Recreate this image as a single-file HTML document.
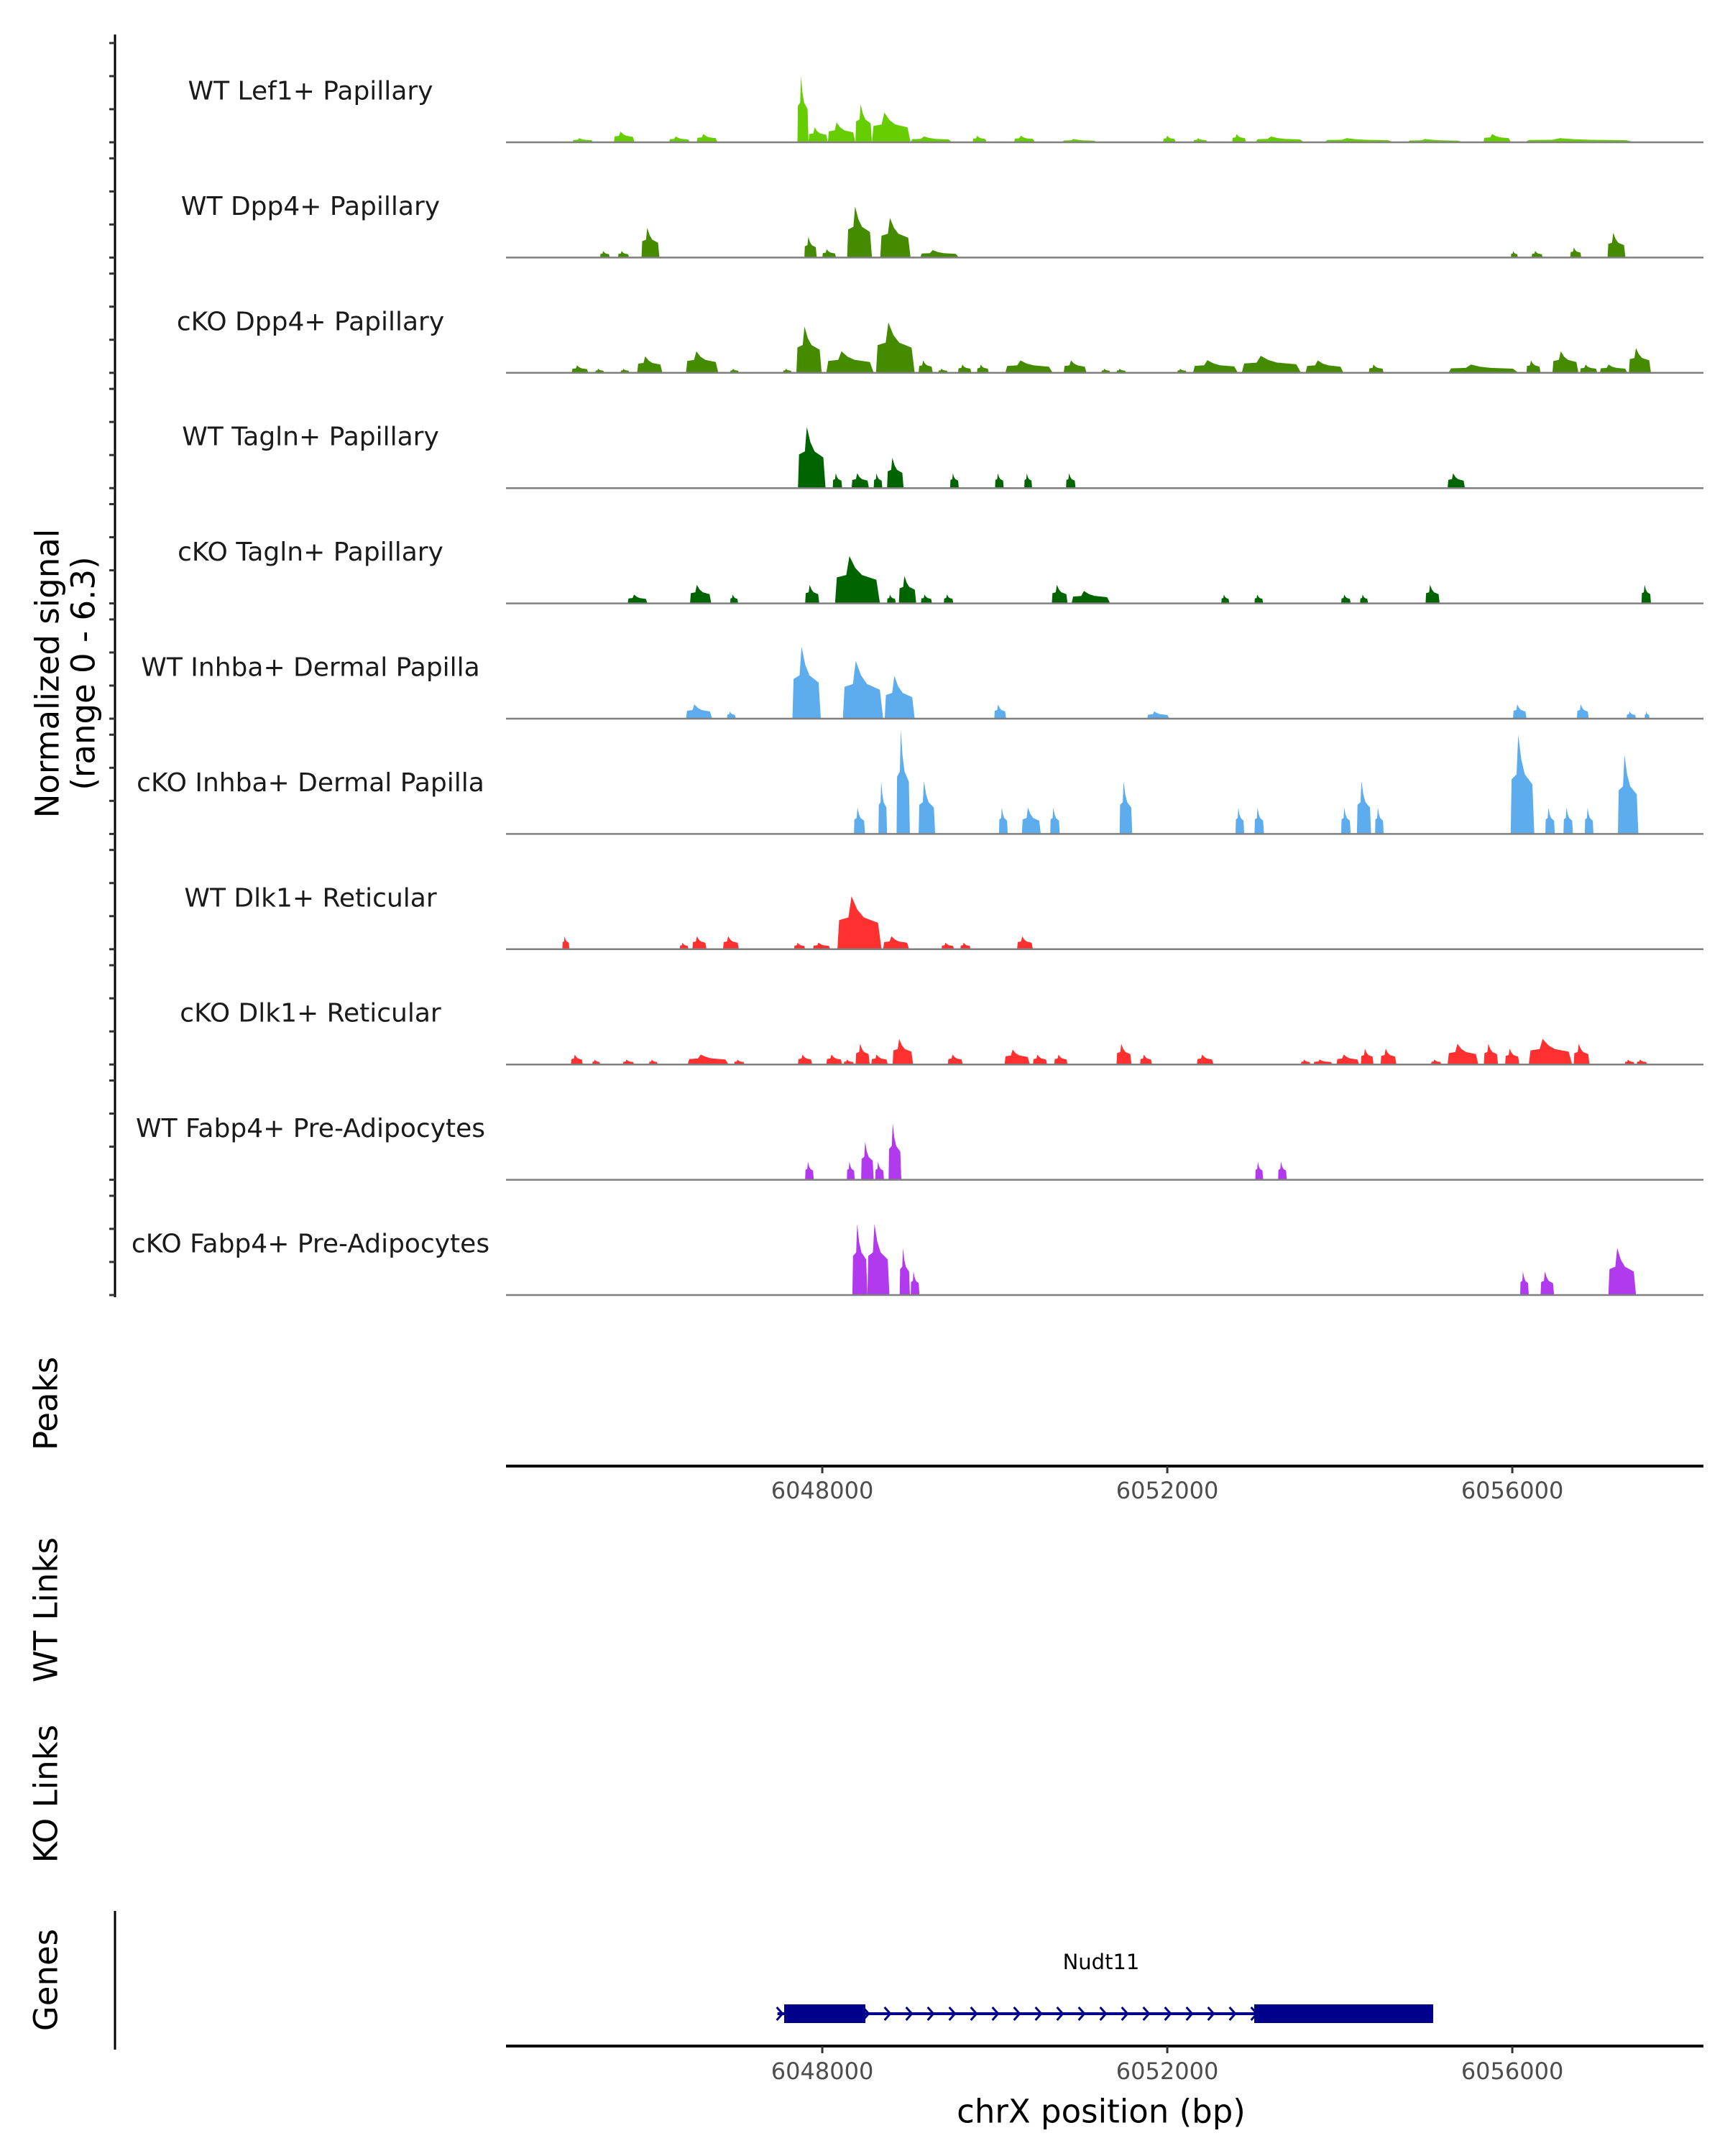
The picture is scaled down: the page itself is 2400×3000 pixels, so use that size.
<!DOCTYPE html>
<html><head><meta charset="utf-8"><style>
html,body{margin:0;padding:0;background:#fff}
svg{display:block}
text{font-family:"DejaVu Sans","Liberation Sans",sans-serif}
</style></head><body>
<svg id="chart" width="2400" height="3000" viewBox="0 0 2400 3000" xmlns="http://www.w3.org/2000/svg">
<rect width="2400" height="3000" fill="#fff"/>
<g id="tracks"></g>
<line x1="160" y1="48" x2="160" y2="1805" stroke="#000" stroke-width="3"/>
<g id="yticks"></g>
<text transform="translate(66,937) rotate(-90)" text-anchor="middle" dominant-baseline="central" font-size="45" fill="#000">Normalized signal</text>
<text transform="translate(116,937) rotate(-90)" text-anchor="middle" dominant-baseline="central" font-size="45" fill="#000">(range 0 - 6.3)</text>
<text transform="translate(64,1953) rotate(-90)" text-anchor="middle" dominant-baseline="central" font-size="45">Peaks</text>
<text transform="translate(64,2240) rotate(-90)" text-anchor="middle" dominant-baseline="central" font-size="45">WT Links</text>
<text transform="translate(64,2496) rotate(-90)" text-anchor="middle" dominant-baseline="central" font-size="45">KO Links</text>
<text transform="translate(64,2755) rotate(-90)" text-anchor="middle" dominant-baseline="central" font-size="45">Genes</text>
<line x1="704" y1="2040" x2="2370" y2="2040" stroke="#000" stroke-width="4"/>
<g id="peakticks"></g>
<line x1="160" y1="2659" x2="160" y2="2852" stroke="#000" stroke-width="3"/>
<line x1="704" y1="2847" x2="2370" y2="2847" stroke="#000" stroke-width="4"/>
<g id="geneticks"></g>
<g id="gene"></g>
<text x="1532" y="2730" text-anchor="middle" dominant-baseline="central" font-size="29">Nudt11</text>
<text x="1532" y="2938" text-anchor="middle" dominant-baseline="central" font-size="45">chrX position (bp)</text>
</svg>
<script>
const trackNames = ["WT Lef1+ Papillary","WT Dpp4+ Papillary","cKO Dpp4+ Papillary","WT Tagln+ Papillary","cKO Tagln+ Papillary","WT Inhba+ Dermal Papilla","cKO Inhba+ Dermal Papilla","WT Dlk1+ Reticular","cKO Dlk1+ Reticular","WT Fabp4+ Pre-Adipocytes","cKO Fabp4+ Pre-Adipocytes"];
const trackColors = ["#66CD00","#458B00","#458B00","#006400","#006400","#5CACEE","#5CACEE","#FF3030","#FF3030","#B23AEE","#B23AEE"];
const xTicks = [6048000,6052000,6056000];
const geneExons = [[6047558,6048500],[6053008,6055083]];
const geneSpan = [6047480,6055083];
const lef1 = [[6045104,6045344,0.25],[6045584,6045824,0.65],[6046224,6046464,0.35],[6046544,6046784,0.5],[6047712,6047840,4.0],[6047840,6048064,0.9],[6048064,6048384,1.2],[6048384,6048576,2.3],[6048576,6049024,1.8],[6049024,6049504,0.35],[6049744,6049904,0.4],[6050224,6050464,0.4],[6050784,6051184,0.2],[6051952,6052096,0.4],[6052304,6052464,0.25],[6052752,6052912,0.5],[6053024,6053584,0.35],[6053824,6054624,0.25],[6054784,6055424,0.2],[6055664,6055984,0.5],[6056144,6057424,0.25]];
const wtDpp4 = [[6045424,6045536,0.4],[6045632,6045760,0.4],[6045904,6046112,1.8],[6047792,6047936,1.25],[6048000,6048160,0.5],[6048288,6048576,3.1],[6048672,6049024,2.4],[6049136,6049584,0.45],[6055984,6056064,0.4],[6056224,6056352,0.4],[6056672,6056800,0.6],[6057104,6057312,1.5]];
const koDpp4 = [[6045095,6045287,0.45],[6045369,6045470,0.25],[6045662,6045762,0.25],[6045854,6046146,1.0],[6046420,6046795,1.3],[6046932,6047033,0.25],[6047545,6047645,0.25],[6047700,6047993,2.8],[6048047,6048596,1.3],[6048623,6049071,3.05],[6049117,6049281,0.75],[6049345,6049455,0.25],[6049574,6049729,0.5],[6049793,6049930,0.5],[6050122,6050671,0.75],[6050799,6051064,0.75],[6051237,6051338,0.25],[6051411,6051521,0.25],[6052115,6052224,0.25],[6052298,6052818,0.77],[6052864,6053550,1.03],[6053604,6054043,0.75],[6054336,6054509,0.5],[6055259,6056072,0.5],[6056164,6056328,0.75],[6056465,6056767,1.3],[6056785,6056986,0.5],[6057014,6057334,0.5],[6057352,6057608,1.5]];
const wtTagln = [[6047718,6048038,3.7],[6048121,6048230,0.9],[6048340,6048541,0.9],[6048596,6048696,0.9],[6048751,6048943,1.84],[6049482,6049583,0.9],[6050003,6050104,0.9],[6050342,6050433,0.9],[6050826,6050936,0.9],[6055250,6055451,0.9]];
const koTagln = [[6045744,6045973,0.54],[6046466,6046713,1.12],[6046932,6047024,0.54],[6047801,6047965,1.12],[6048148,6048669,2.86],[6048751,6048852,0.54],[6048888,6049089,1.66],[6049144,6049272,0.54],[6049409,6049519,0.54],[6050661,6050844,1.12],[6050890,6051338,0.75],[6052627,6052718,0.54],[6053011,6053111,0.54],[6054016,6054126,0.54],[6054235,6054327,0.54],[6054994,6055158,1.12],[6057498,6057608,1.12]];
const wtInhba = [[6046420,6046722,0.87],[6046896,6046996,0.44],[6047654,6047983,4.36],[6048239,6048705,3.5],[6048724,6049071,2.6],[6049994,6050131,0.87],[6051767,6052023,0.44],[6056008,6056164,0.87],[6056749,6056886,0.87],[6057325,6057434,0.44],[6057535,6057590,0.44]];
const koInhba = [[6048367,6048495,1.6],[6048651,6048751,3.2],[6048861,6049016,6.3],[6049117,6049309,3.2],[6050049,6050150,1.6],[6050314,6050533,1.6],[6050643,6050753,1.6],[6051447,6051594,3.2],[6052791,6052892,1.6],[6053011,6053120,1.6],[6054016,6054126,1.6],[6054199,6054363,3.2],[6054409,6054509,1.6],[6055981,6056255,6.0],[6056383,6056493,1.6],[6056593,6056703,1.6],[6056840,6056941,1.6],[6057224,6057462,4.8]];
const wtDlk1 = [[6044986,6045068,0.78],[6046347,6046448,0.4],[6046494,6046658,0.78],[6046850,6047033,0.78],[6047673,6047801,0.4],[6047892,6048093,0.4],[6048175,6048687,3.2],[6048705,6049007,0.78],[6049382,6049528,0.4],[6049601,6049720,0.4],[6050259,6050442,0.78]];
const koDlk1 = [[6045086,6045223,0.6],[6045333,6045424,0.3],[6045689,6045817,0.3],[6045991,6046091,0.3],[6046439,6046914,0.6],[6046978,6047097,0.3],[6047718,6047883,0.6],[6048047,6048230,0.6],[6048248,6048367,0.3],[6048386,6048550,1.25],[6048568,6048760,0.6],[6048815,6049053,1.55],[6049455,6049629,0.6],[6050113,6050406,0.9],[6050442,6050607,0.6],[6050689,6050844,0.6],[6051411,6051585,1.25],[6051685,6051822,0.6],[6052343,6052535,0.6],[6053550,6053659,0.3],[6053696,6053915,0.3],[6053961,6054226,0.6],[6054244,6054391,0.95],[6054473,6054656,0.95],[6055058,6055177,0.3],[6055250,6055606,1.25],[6055670,6055835,1.25],[6055917,6056081,0.95],[6056191,6056694,1.55],[6056712,6056895,1.25],[6057306,6057416,0.3],[6057443,6057562,0.3]];
const wtFabp4 = [[6047801,6047901,1.1],[6048285,6048376,1.1],[6048450,6048596,2.3],[6048614,6048715,1.1],[6048769,6048916,3.4],[6053020,6053111,1.1],[6053285,6053385,1.1]];
const koFabp4 = [[6048349,6048523,4.3],[6048523,6048779,4.3],[6048897,6049016,2.85],[6049025,6049126,1.43],[6056091,6056191,1.43],[6056328,6056484,1.43],[6057114,6057434,2.85]];
const trackData = [lef1,wtDpp4,koDpp4,wtTagln,koTagln,wtInhba,koInhba,wtDlk1,koDlk1,wtFabp4,koFabp4];

const NS="http://www.w3.org/2000/svg";
const X0=704, X1=2370, BP0=6044333, BP1=6058216;
function xs(bp){return X0+(bp-BP0)*(X1-X0)/(BP1-BP0);}
const TRACK_H=145, FIRST_BASE=198, STEP=160.4, YMAX=6.3;
function ys(v,i){return FIRST_BASE+i*STEP - v*TRACK_H/YMAX;}
function mk(tag,attrs,parent){const e=document.createElementNS(NS,tag);for(const k in attrs)e.setAttribute(k,attrs[k]);parent.appendChild(e);return e;}

const tracksG=document.getElementById('tracks');
const ytG=document.getElementById('yticks');
trackData.forEach((peaks,i)=>{
  const base=ys(0,i);
  const g=mk('g',{},tracksG);
  
  
  peaks.forEach((p,j)=>{
    const s=xs(p[0]), e=xs(p[1]), w=e-s, v=p[2];
    const pts=[[s,0],[s+0.04*w,0.55*v],[s+0.25*w,0.6*v],[s+0.32*w,v],[s+0.45*w,0.75*v],[s+0.6*w,0.6*v],[s+0.92*w,0.5*v],[e,0]];
    const poly=mk('polygon',{points:pts.map(q=>q[0].toFixed(1)+','+ys(q[1],i).toFixed(1)).join(' '),fill:trackColors[i]},g);
    
    
  });
  const bl=mk('line',{x1:X0,x2:X1,y1:base,y2:base,stroke:'#7f7f7f','stroke-width':2.5},g);
  
  
  const t=mk('text',{x:432,y:base-71,'text-anchor':'middle','dominant-baseline':'central','font-size':36,fill:'#1a1a1a'},g);
  t.textContent=trackNames[i];
  
  
  [0,2,4,6].forEach(v=>{
    const tk=mk('line',{x1:152,x2:160,y1:ys(v,i),y2:ys(v,i),stroke:'#333','stroke-width':3},ytG);
    
    
  });
});

function xAxis(gid,y,labelY){
  const g=document.getElementById(gid);
  xTicks.forEach(t=>{
    const x=xs(t);
    const l=mk('line',{x1:x,x2:x,y1:y,y2:y+10,stroke:'#333','stroke-width':3},g);
    
    
    const tx=mk('text',{x:x,y:labelY,'text-anchor':'middle','dominant-baseline':'central','font-size':32,fill:'#4d4d4d'},g);
    tx.textContent=t;
    
    
  });
}
xAxis('peakticks',2040,2074);
xAxis('geneticks',2847,2882);

const geneG=document.getElementById('gene');
const GY=2802;
const gl=mk('line',{x1:xs(geneSpan[0]),x2:xs(geneSpan[1]),y1:GY,y2:GY,stroke:'#00008B','stroke-width':4},geneG);


geneExons.forEach(ex=>{
  const r=mk('rect',{x:xs(ex[0]),y:GY-13,width:xs(ex[1])-xs(ex[0]),height:26,fill:'#00008B'},geneG);
  
  
});
for(let x=xs(geneSpan[0])+4;x<=xs(geneSpan[1])+2;x+=30){
  const a=mk('polyline',{points:`${x-5},${GY-9} ${x+3},${GY} ${x-5},${GY+9}`,fill:'none',stroke:'#00008B','stroke-width':3},geneG);
  
  
}
</script>
</body></html>
